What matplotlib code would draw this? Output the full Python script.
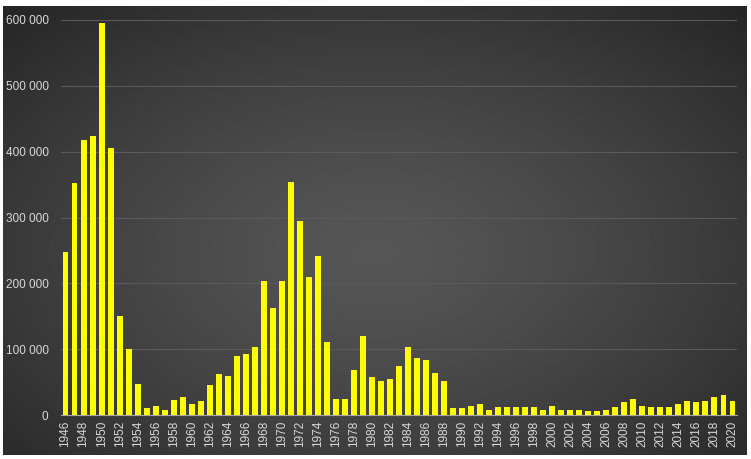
import numpy as np
import matplotlib
matplotlib.use("Agg")
import matplotlib.pyplot as plt

years = list(range(1946, 2021))
values = [
    247000, 353000, 418000, 424000, 595000, 405000, 150000, 100000, 47000, 10000,   # 1946-1955
    13000, 8000, 23000, 28000, 16000, 22000, 45000, 63000, 59000, 90000,            # 1956-1965
    92000, 103000, 204000, 163000, 204000, 354000, 294000, 209000, 241000, 111000,  # 1966-1975
    24000, 24000, 69000, 120000, 57000, 51000, 55000, 75000, 104000, 87000,         # 1976-1985
    83000, 64000, 52000, 10000, 10000, 14000, 16000, 8000, 11500, 11500,            # 1986-1995
    11500, 11500, 11500, 8000, 13000, 7000, 7000, 7000, 5500, 5500,                 # 1996-2005
    8000, 11500, 19000, 25000, 14000, 11500, 11500, 11500, 16000, 21000,            # 2006-2015
    19000, 22000, 27000, 31000, 22000,                                              # 2016-2020
]
yticks = [0, 100000, 200000, 300000, 400000, 500000, 600000]

plt.rcParams['font.family'] = ['Liberation Sans', 'DejaVu Sans']

fig = plt.figure(figsize=(7.51, 4.59), dpi=100)
fig.patch.set_facecolor("white")

# dark radial gradient background
bg = fig.add_axes([3/751, 4/459, 743/751, 449/459])
gx, gy = np.meshgrid(np.linspace(-1, 1, 400), np.linspace(-1, 1, 250))
r = np.sqrt((gx / 1.1) ** 2 + ((gy - 0.1) / 1.15) ** 2)
shade = 0.34 - 0.19 * (np.clip(r, 0, 1.3) / 1.3) ** 1.3
bg.imshow(np.dstack([shade] * 3), aspect="auto", extent=[0, 1, 0, 1], interpolation="bilinear")
bg.axis("off")

ax = fig.add_axes([61/751, 44/459, 676/751, 395/459])
ax.patch.set_alpha(0)
x = np.arange(len(years))
ax.bar(x, values, width=0.66, color="#ffff00", zorder=3)

ax.set_xlim(-0.5, len(years) - 0.5)
ax.set_ylim(0, 600000)
ax.set_yticks(yticks)
ax.set_yticklabels([f"{v:,}".replace(",", " ") for v in yticks])
ax.set_xticks(x[::2])
ax.set_xticklabels([str(y) for y in years[::2]], rotation=90)
ax.grid(axis="y", color="#5a5a5a", linewidth=0.8, zorder=0)
for s in ["top", "right", "left"]:
    ax.spines[s].set_visible(False)
ax.spines["bottom"].set_color("#a6a6a6")
ax.spines["bottom"].set_linewidth(0.8)
ax.tick_params(axis="both", length=0, colors="#d9d9d9", labelsize=8.5)
ax.tick_params(axis="y", pad=9)
ax.tick_params(axis="x", pad=4)

fig.savefig("out.png", dpi=100, facecolor=fig.get_facecolor())
